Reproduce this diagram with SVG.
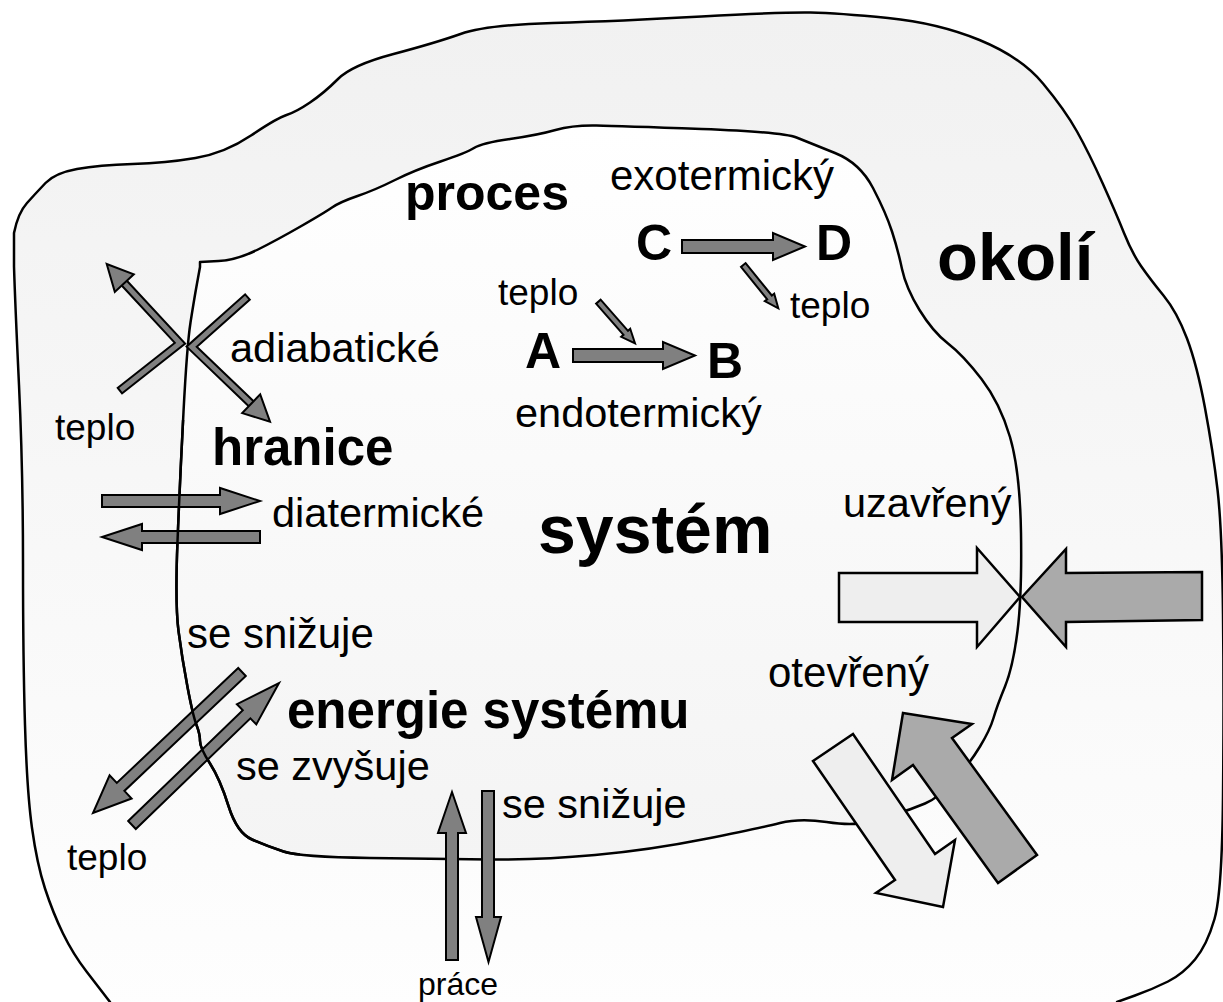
<svg xmlns="http://www.w3.org/2000/svg" xmlns:xlink="http://www.w3.org/1999/xlink" width="1223" height="1002" viewBox="0 0 1223 1002">
<style>
.t{font-family:"Liberation Sans",Arial,Helvetica,sans-serif;font-size:41.5px;fill:#000}
.b{font-weight:bold}
.edge{fill:none;stroke:#000;stroke-width:2.5;stroke-linejoin:round}
.arr{fill:#808080;stroke:#000;stroke-width:2;stroke-linejoin:miter}
.light{fill:#eeeeee;stroke:#000;stroke-width:2.5;stroke-linejoin:miter}
.dark{fill:#aaaaaa;stroke:#000;stroke-width:2.5;stroke-linejoin:miter}
.sh-o{fill:none;stroke:#000;stroke-width:9;stroke-linejoin:miter}
.sh-i{fill:none;stroke:#808080;stroke-width:5;stroke-linejoin:miter}
</style>
<defs>
<linearGradient id="gOut" x1="0" y1="0" x2="0" y2="1">
<stop offset="0" stop-color="#f1f1f1"/>
<stop offset="1" stop-color="#fefefe"/>
</linearGradient>
<linearGradient id="gIn" x1="0" y1="0" x2="0" y2="1">
<stop offset="0" stop-color="#ffffff"/>
<stop offset="1" stop-color="#f4f4f4"/>
</linearGradient>
<path id="innerPath" d="M200,262 L218.5,261 Q237,260 257,250 Q277,240 300.5,226.5 Q324,213 332,207.5 Q340,202 357.5,196 Q375,190 395,180 Q415,170 440.5,161.5 Q466,153 474,148 Q482,143 510,139 Q538,135 555.5,130 Q573,125 596.5,125.5 Q620,126 701.5,129 Q783,132 796.5,137.5 Q810,143 835,153 Q860,163 873,188 Q886,213 892,231.5 Q898,250 902,269 Q906,288 919.5,310 Q933,332 948,343.5 Q963,355 981.5,379 Q1000,403 1010,437 Q1020,471 1021,533 Q1022,595 1017.5,631 Q1013,667 1005,686.5 Q997,706 993.5,718 Q990,730 980,746.5 Q970,763 955,780 Q940,797 925,803.5 Q910,810 895,814 Q880,818 866.5,822 Q853,826 826.5,822 Q800,818 780,823 Q760,828 705,839 Q650,850 595,855 Q540,860 490,859.5 Q440,859 370,858 Q300,857 283.5,851.5 Q267,846 252,839.5 Q237,833 228.5,806 Q220,779 210,763.5 Q200,748 200,741 Q200,734 196.5,725 Q193,716 187.5,687 Q182,658 178.5,631 Q175,604 177.5,541.5 Q180,479 183.5,412 Q187,345 190.5,322.5 Q194,300 197,283.5 L200,267 Z"/>
<clipPath id="leftClip"><rect x="0" y="420" width="300" height="440"/></clipPath>
</defs>
<rect width="1223" height="1002" fill="#ffffff"/>
<g id="okoli">
<path class="edge" style="fill:url(#gOut)" d="M14,233 Q18,213 27,203 Q36,193 45.5,183 Q55,173 77,169 Q99,165 132.5,164 Q166,163 195.5,158 Q225,153 251,135.5 Q277,118 286.5,115 Q296,112 310,102.5 Q324,93 338,79 Q352,65 393.5,54 Q435,43 460.5,34 Q486,25 553,23 Q620,21 701.5,16.5 Q783,12 810.5,12.5 Q838,13 888,18 Q938,23 979.5,40 Q1021,57 1043,83.5 Q1065,110 1077,131.5 Q1089,153 1102.5,183 Q1116,213 1124,233 Q1132,253 1141,266 Q1150,279 1163.5,295.5 Q1177,312 1187,338.5 Q1197,365 1205,408 Q1213,451 1217.5,489.5 Q1222,528 1223,614 Q1224,700 1223,796.5 Q1222,893 1214.5,919 Q1207,945 1195,959.5 Q1183,974 1168,981.5 Q1153,989 1135,995.5 L1117,1002 L1117,1012 L110,1012 L110,1002 Q100,989 86.5,971.5 Q73,954 63,933.5 Q53,913 45,888.5 Q37,864 32,828 Q27,792 25,725 Q23,658 23,564 Q23,470 19,385 Q15,300 14,266.5 Z"/>
<text class="t b" x="937" y="280" style="font-size:67px">okolí</text>
</g>
<g id="system">
<use xlink:href="#innerPath" class="edge" style="fill:url(#gIn)"/>
<text class="t b" x="538" y="553" style="font-size:68px">systém</text>
</g>
<g id="connectors">
<path class="sh-o" d="M119.1,391.2 L180,343.3 L124.3,283.1"/>
<path class="sh-i" d="M120.7,390 L180,343.3 L124.3,283.1"/>
<polygon class="arr" points="106.7,264 133.8,274.3 114.8,291.9"/>
<path class="sh-o" d="M248.2,296.4 L191.7,346.7 L251.2,403.7"/>
<path class="sh-i" d="M246.7,297.7 L191.7,346.7 L251.2,403.7"/>
<polygon class="arr" points="270,421.7 260.2,394.3 242.2,413.1"/>
<polygon class="arr" points="102,495 220,495 220,488 260,501 220,514 220,507 102,507"/>
<polygon class="arr" points="260,531 142,531 142,524 102,537 142,550 142,543 260,543"/>
<polygon class="arr" points="682,240 773,240 773,233 805,246.5 773,260 773,253 682,253"/>
<polygon class="arr" points="573,349 663,349 663,342 695,355.5 663,369 663,362 573,362"/>
<polygon class="arr" points="600.6,299.7 628.0,330.8 630.2,328.8 635,343.3 621.2,336.8 623.5,334.8 596.1,303.7"/>
<polygon class="arr" points="745.6,263.1 771.8,295.5 774.2,293.6 778.3,308.3 764.8,301.2 767.2,299.3 741.0,266.9"/>
<polygon class="arr" points="238.2,668.0 116.8,782.9 109.6,775.3 93,813 131.6,798.5 124.4,790.9 245.8,676.0"/>
<polygon class="arr" points="128.2,821.0 242.8,710.3 236.9,704.2 279,683 256.3,724.4 250.4,718.3 135.8,829.0"/>
<polygon class="arr" points="446,960 446,833 438,833 452,792 466,833 458,833 458,960"/>
<polygon class="arr" points="482,791 494,791 494,917 501,917 488.5,962 476,917 482,917"/>
<polygon class="light" points="839,573 977,573 977,548 1020,597 977,647 977,622 839,622"/>
<polygon class="dark" points="1022,597 1066,549 1066,573 1202,572 1202,620 1066,622 1066,647"/>
<polygon class="light" points="813,761 853,734 935,854 955,840 943,907 876,893 895,880"/>
<polygon class="dark" points="903,713 972,724 952,738 1037,855 998,883 913,765 892,780"/>
<use xlink:href="#innerPath" class="edge" clip-path="url(#leftClip)"/>
</g>
<g id="labels">
<text class="t b" x="405" y="210" style="font-size:50px">proces</text>
<text class="t" x="610" y="190" style="font-size:42px">exotermický</text>
<text class="t b" x="636" y="260" style="font-size:50px">C</text>
<text class="t b" x="816" y="260" style="font-size:50px">D</text>
<text class="t" x="790" y="318" style="font-size:37px">teplo</text>
<text class="t" x="498" y="305" style="font-size:37px">teplo</text>
<text class="t b" x="525" y="368" style="font-size:50px">A</text>
<text class="t b" x="707" y="378" style="font-size:50px">B</text>
<text class="t" x="230" y="362">adiabatické</text>
<text class="t" x="515" y="427">endotermický</text>
<text class="t" x="55" y="440" style="font-size:37px">teplo</text>
<text class="t b" x="212" y="465" style="font-size:51px">hranice</text>
<text class="t" x="272" y="527">diatermické</text>
<text class="t" x="843" y="517">uzavřený</text>
<text class="t" x="187" y="648" style="font-size:42px">se snižuje</text>
<text class="t" x="768" y="687" style="font-size:42px">otevřený</text>
<text class="t b" x="287" y="728" style="font-size:51px">energie systému</text>
<text class="t" x="236" y="780">se zvyšuje</text>
<text class="t" x="502" y="818">se snižuje</text>
<text class="t" x="67" y="870" style="font-size:37px">teplo</text>
<text class="t" x="418" y="995" style="font-size:32px">práce</text>
</g>
</svg>
